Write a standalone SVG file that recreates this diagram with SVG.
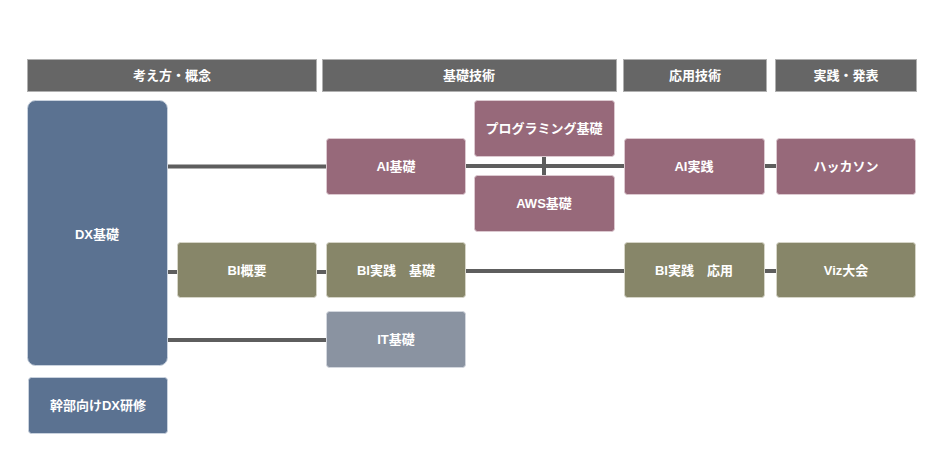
<svg xmlns="http://www.w3.org/2000/svg" width="943" height="472" viewBox="0 0 943 472">
<style>
text{font-family:"Liberation Sans","Noto Sans CJK JP",sans-serif;font-weight:bold;font-size:13px;fill:#fff;text-anchor:middle;dominant-baseline:central}
.hdr{fill:#666666;stroke:#b0b0b0;stroke-width:1}
.dx{fill:#5b7291;stroke:#c9d2de;stroke-width:1}
.ai{fill:#97697a;stroke:#dcc9d0;stroke-width:1}
.bi{fill:#878669;stroke:#d6d5c8;stroke-width:1}
.it{fill:#8a93a1;stroke:#d3d7de;stroke-width:1}
.conn line{stroke:#5e5e5e;stroke-width:4}
</style>
<rect width="943" height="472" fill="#fff"/>
<g id="headers">
<g id="h1"><rect class="hdr" x="27.5" y="59.5" width="289" height="32"/><text x="172" y="75.5">考え方・概念</text></g>
<g id="h2"><rect class="hdr" x="322.5" y="59.5" width="294" height="32"/><text x="469" y="75.5">基礎技術</text></g>
<g id="h3"><rect class="hdr" x="623.5" y="59.5" width="143" height="32"/><text x="695" y="75.5">応用技術</text></g>
<g id="h4"><rect class="hdr" x="775.5" y="59.5" width="141" height="32"/><text x="846" y="75.5">実践・発表</text></g>
</g>
<g class="conn" id="connectors">
<line x1="167" y1="166.5" x2="326" y2="166.5"/>
<line x1="465" y1="166" x2="624" y2="166"/>
<line x1="544" y1="156" x2="544" y2="175"/>
<line x1="764" y1="166" x2="776" y2="166"/>
<line x1="167" y1="272" x2="177" y2="272"/>
<line x1="316" y1="272" x2="326" y2="272"/>
<line x1="465" y1="271" x2="624" y2="271"/>
<line x1="764" y1="271" x2="776" y2="271"/>
<line x1="167" y1="340" x2="326" y2="340"/>
</g>
<g id="dx"><rect class="dx" x="27.5" y="100.5" width="140" height="265" rx="8"/><text x="97" y="234">DX基礎</text></g>
<g id="exec"><rect class="dx" x="28.5" y="377.5" width="139" height="56" rx="3"/><text x="98" y="405.5">幹部向けDX研修</text></g>
<g id="bi-gaiyo"><rect class="bi" x="177.5" y="242.5" width="139" height="55" rx="3"/><text x="247" y="270">BI概要</text></g>
<g id="bi-kiso"><rect class="bi" x="326.5" y="242.5" width="139" height="55" rx="3"/><text x="396" y="270">BI実践　基礎</text></g>
<g id="it"><rect class="it" x="326.5" y="311.5" width="139" height="56" rx="3"/><text x="396" y="339.5">IT基礎</text></g>
<g id="ai-kiso"><rect class="ai" x="326.5" y="138.5" width="139" height="56" rx="3"/><text x="396" y="166.5">AI基礎</text></g>
<g id="prog"><rect class="ai" x="474.5" y="100.5" width="140" height="56" rx="3"/><text x="544" y="128.5">プログラミング基礎</text></g>
<g id="aws"><rect class="ai" x="474.5" y="175.5" width="140" height="56" rx="3"/><text x="544" y="203.5">AWS基礎</text></g>
<g id="ai-jissen"><rect class="ai" x="624.5" y="138.5" width="140" height="56" rx="3"/><text x="694" y="166.5">AI実践</text></g>
<g id="hackathon"><rect class="ai" x="776.5" y="138.5" width="139" height="56" rx="3"/><text x="846" y="166.5">ハッカソン</text></g>
<g id="bi-oyo"><rect class="bi" x="624.5" y="242.5" width="140" height="55" rx="3"/><text x="694" y="270">BI実践　応用</text></g>
<g id="viz"><rect class="bi" x="776.5" y="242.5" width="139" height="55" rx="3"/><text x="846" y="270">Viz大会</text></g>
</svg>
